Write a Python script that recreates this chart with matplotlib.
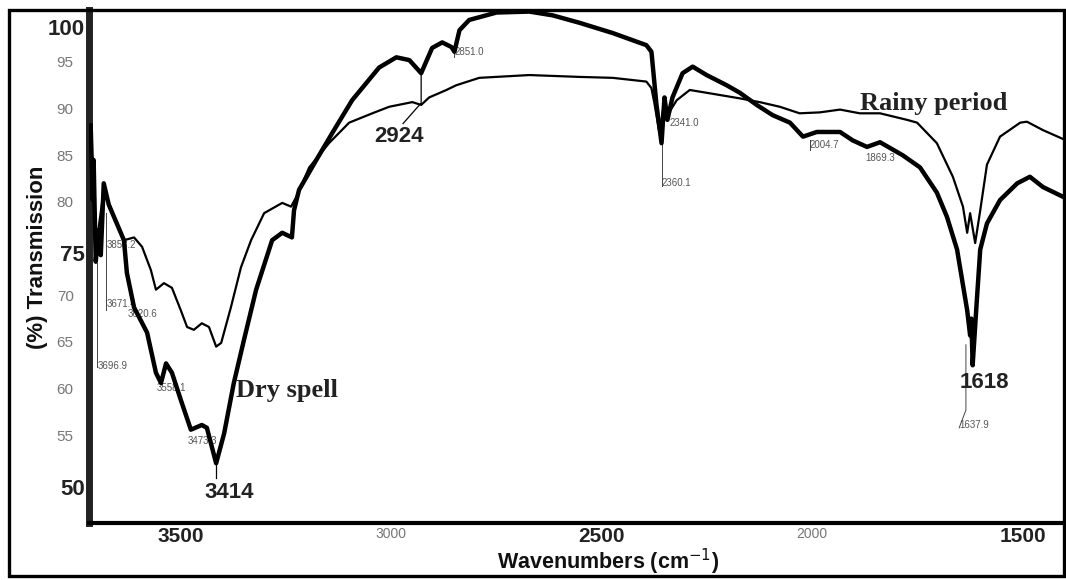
import numpy as np
import matplotlib
matplotlib.use('Agg')
import matplotlib.pyplot as plt
from matplotlib.patches import Rectangle

# dry spell spectrum (thick line), wavenumber cm-1 vs % transmission
dry_wn = [3714, 3709, 3707, 3702, 3695, 3690, 3683, 3671, 3652, 3635, 3628, 3611,
          3580, 3559, 3547, 3535, 3521, 3500, 3476, 3450, 3438, 3416, 3397, 3374,
          3350, 3321, 3283, 3259, 3236, 3231, 3219, 3178, 3140, 3093, 3029, 2988,
          2957, 2929, 2903, 2879, 2857, 2850, 2838, 2815, 2750, 2672, 2617, 2553,
          2474, 2394, 2382, 2370, 2358, 2351, 2344, 2332, 2308, 2284, 2251, 2203,
          2172, 2132, 2094, 2053, 2022, 1989, 1934, 1904, 1870, 1839, 1785, 1744,
          1704, 1680, 1656, 1642, 1632, 1625, 1622, 1619, 1609, 1601, 1585, 1554,
          1513, 1483, 1452, 1411, 1397]
dry_t = [88.2, 80.2, 84.5, 73.6, 77.0, 74.3, 82.0, 79.7, 77.7, 75.9, 72.4, 68.7,
         66.0, 61.7, 60.6, 62.7, 61.7, 58.8, 55.6, 56.1, 55.8, 52.0, 55.2, 60.6,
         65.2, 70.6, 75.9, 76.7, 76.2, 79.1, 81.3, 84.5, 87.4, 90.9, 94.4, 95.5,
         95.2, 93.8, 96.5, 97.1, 96.6, 96.1, 98.4, 99.5, 100.3, 100.4, 100.0, 99.2,
         98.1, 96.8, 96.1, 90.4, 86.3, 91.2, 88.8, 91.2, 93.8, 94.5, 93.6, 92.5,
         91.7, 90.4, 89.3, 88.5, 87.0, 87.5, 87.5, 86.6, 85.9, 86.4, 85.0, 83.7,
         81.0, 78.4, 74.9, 71.1, 68.4, 65.7, 67.5, 62.5, 69.5, 74.9, 77.7, 80.2,
         82.0, 82.7, 81.6, 80.7, 80.4]

# rainy period spectrum (thin line)
rain_wn = [3714, 3702, 3683, 3659, 3635, 3611, 3592, 3571, 3559, 3540, 3521, 3500,
           3485, 3469, 3450, 3433, 3416, 3404, 3381, 3357, 3333, 3302, 3259, 3238,
           3226, 3195, 3148, 3100, 3045, 3005, 2950, 2929, 2910, 2869, 2846, 2791,
           2672, 2553, 2474, 2394, 2382, 2375, 2363, 2351, 2344, 2322, 2291, 2251,
           2172, 2125, 2077, 2030, 1982, 1934, 1887, 1839, 1775, 1751, 1704, 1666,
           1642, 1632, 1625, 1613, 1601, 1585, 1554, 1506, 1490, 1452, 1397]
rain_t = [87.7, 74.9, 81.3, 78.6, 75.9, 76.2, 75.2, 72.7, 70.6, 71.3, 70.8, 68.4,
          66.6, 66.3, 67.0, 66.6, 64.5, 64.9, 68.7, 73.0, 75.9, 78.8, 79.9, 79.5,
          80.5, 83.7, 86.3, 88.5, 89.5, 90.2, 90.7, 90.4, 91.2, 92.0, 92.5, 93.3,
          93.6, 93.4, 93.3, 92.9, 92.2, 90.6, 87.4, 90.9, 89.3, 90.9, 92.0, 91.7,
          91.1, 90.7, 90.2, 89.5, 89.6, 89.9, 89.5, 89.5, 88.8, 88.5, 86.3, 82.7,
          79.5, 76.7, 78.8, 75.6, 79.1, 84.0, 87.0, 88.5, 88.6, 87.7, 86.6]

# small grey peak readouts: label, text x, text y
small_labels = ['3696.9', '3671.4', '3853.2', '3620.6', '3558.1', '3473.3',
                '2851.0', '2341.0', '2360.1', '2004.7', '1869.3', '1637.9']
small_x = [3697, 3676, 3676, 3626, 3557, 3483, 2850, 2339, 2358, 2006, 1873, 1651]
small_y = [62.4, 69.1, 75.4, 68.0, 60.1, 54.4, 96.1, 88.5, 82.0, 86.1, 84.7, 56.1]

# big bold peak labels
peak_labels = ['3414', '2924', '1618']
peak_x = [3386, 2981, 1590]
peak_y = [48.9, 87.0, 60.7]

# axis ticks
xt_bold = [3500, 2500, 1500]
xt_grey = [3000, 2000]
yt_grey = [95, 90, 85, 80, 70, 65, 60, 55]
yt_bold_pos = [98.75, 74.53, 49.45]
yt_bold_lab = ['100', '75', '50']

plt.rcParams['font.family'] = ['Liberation Sans', 'DejaVu Sans']

fig = plt.figure(figsize=(10.66, 5.8), dpi=100)
W, H = 1066, 580
ax = fig.add_axes([89 / W, (H - 523) / H, (1064 - 89) / W, (523 - 10) / H])

ax.plot(rain_wn, rain_t, color='black', lw=1.6, zorder=3)
ax.plot(dry_wn, dry_t, color='black', lw=3.2, zorder=4, solid_joinstyle='round')

ax.set_xlim(3718, 1402)
ax.set_ylim(45.6, 100.57)

# leader lines
lc = dict(color='#444444', lw=0.7, zorder=2)
ax.plot([3699, 3699], [73.5, 62.3], **lc)
ax.plot([3678, 3678], [78.8, 68.4], **lc)
ax.plot([2850, 2850], [96.6, 95.5], **lc)
ax.plot([2358, 2358], [86.3, 81.7], **lc)
ax.plot([2006, 2006], [86.6, 85.6], **lc)
ax.plot([1635, 1635, 1651], [64.7, 57.7, 55.8], **lc)
ax.plot([3416, 3416], [52.0, 50.4], color='black', lw=0.9, zorder=2)
ax.plot([2929, 2929, 2972], [93.6, 90.6, 88.4], color='black', lw=0.9, zorder=2)

for lab, x, y in zip(small_labels, small_x, small_y):
    ax.text(x, y, lab, fontsize=7, color='#555555', ha='left', va='center', zorder=1)

for lab, x, y in zip(peak_labels, peak_x, peak_y):
    ax.text(x, y, lab, fontsize=16, fontweight='bold', color='#222222',
            ha='center', va='center', zorder=5)

ax.text(3369, 59.8, 'Dry spell', family='Liberation Serif', fontsize=19,
        fontweight='bold', ha='left', va='center', color='#222222')
ax.text(1887, 90.6, 'Rainy period', family='Liberation Serif', fontsize=19,
        fontweight='bold', ha='left', va='center', color='#222222')

# ticks
ax.set_xticks(xt_bold)
ax.set_xticklabels([str(v) for v in xt_bold], fontsize=15, fontweight='bold', color='#222222')
ax.set_xticks(xt_grey, minor=True)
ax.set_xticklabels([str(v) for v in xt_grey], minor=True, fontsize=10, color='#777777')
ax.tick_params(axis='x', which='major', length=0, pad=3)
ax.tick_params(axis='x', which='minor', length=0, pad=3)

ax.set_yticks(yt_bold_pos)
ax.set_yticklabels(yt_bold_lab, fontsize=16, fontweight='bold', color='#222222')
ax.set_yticks(yt_grey, minor=True)
ax.set_yticklabels([str(v) for v in yt_grey], minor=True, fontsize=11, color='#777777')
ax.tick_params(axis='y', which='major', length=0, pad=3)
ax.tick_params(axis='y', which='minor', length=0, pad=11)

for s in ['top', 'right']:
    ax.spines[s].set_visible(False)
ax.spines['left'].set_linewidth(5)
ax.spines['left'].set_color('#222222')
ax.spines['bottom'].set_linewidth(3)

fig.text(38 / W, 1 - 257 / H, '(%) Transmission', rotation=90, fontsize=16,
         fontweight='bold', ha='center', va='center', color='#111111')
fig.text(608 / W, 1 - 562 / H, 'Wavenumbers (cm$^{-1}$)', fontsize=15.5,
         fontweight='bold', ha='center', va='center', color='#111111')

# outer frame
fig.patches.append(Rectangle((9 / W, 4 / H), (1064 - 9) / W, (570 - 4) / H,
                             transform=fig.transFigure, fill=False,
                             edgecolor='black', lw=2.4))

fig.savefig('out.png', dpi=100)
